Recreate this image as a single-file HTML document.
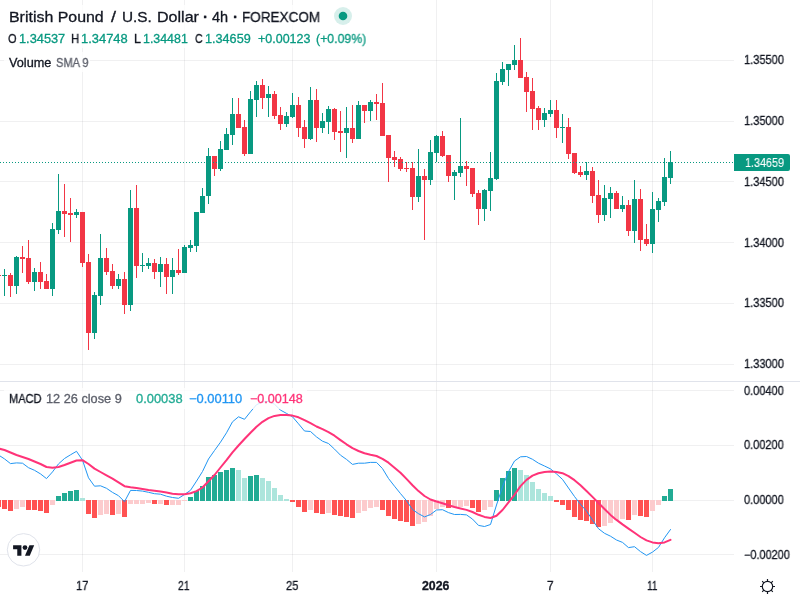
<!DOCTYPE html><html><head><meta charset="utf-8"><title>GBPUSD</title><style>
html,body{margin:0;padding:0;background:#fff}
body{width:800px;height:600px;position:relative;overflow:hidden;font-family:"Liberation Sans",sans-serif;color:#131722}
svg{position:absolute;left:0;top:0}
.t{position:absolute;white-space:nowrap;line-height:1;transform-origin:0 0;display:block;will-change:transform;-webkit-text-stroke:0.3px}
.bg{position:absolute;background:rgba(255,255,255,.8)}
</style></head><body>
<svg width="800" height="600" viewBox="0 0 800 600" shape-rendering="crispEdges">
<rect x="82" y="0" width="1" height="572" fill="#2a2e39" fill-opacity="0.07"/>
<rect x="184" y="0" width="1" height="572" fill="#2a2e39" fill-opacity="0.07"/>
<rect x="292" y="0" width="1" height="572" fill="#2a2e39" fill-opacity="0.07"/>
<rect x="436" y="0" width="1" height="572" fill="#2a2e39" fill-opacity="0.07"/>
<rect x="550" y="0" width="1" height="572" fill="#2a2e39" fill-opacity="0.07"/>
<rect x="652" y="0" width="1" height="572" fill="#2a2e39" fill-opacity="0.07"/>
<rect x="0" y="60" width="734" height="1" fill="#2a2e39" fill-opacity="0.07"/>
<rect x="0" y="121" width="734" height="1" fill="#2a2e39" fill-opacity="0.07"/>
<rect x="0" y="181" width="734" height="1" fill="#2a2e39" fill-opacity="0.07"/>
<rect x="0" y="242" width="734" height="1" fill="#2a2e39" fill-opacity="0.07"/>
<rect x="0" y="303" width="734" height="1" fill="#2a2e39" fill-opacity="0.07"/>
<rect x="0" y="364" width="734" height="1" fill="#2a2e39" fill-opacity="0.07"/>
<rect x="0" y="390" width="734" height="1" fill="#2a2e39" fill-opacity="0.07"/>
<rect x="0" y="445" width="734" height="1" fill="#2a2e39" fill-opacity="0.07"/>
<rect x="0" y="500" width="734" height="1" fill="#2a2e39" fill-opacity="0.07"/>
<rect x="0" y="554" width="734" height="1" fill="#2a2e39" fill-opacity="0.07"/>
<rect x="0" y="381" width="800" height="1" fill="#e0e3eb"/>
<g fill="#089981">
<rect x="4" y="269" width="1" height="27"/>
<rect x="2" y="275" width="5" height="1"/>
<rect x="16" y="256" width="1" height="38"/>
<rect x="14" y="257" width="5" height="29"/>
<rect x="34" y="268" width="1" height="23"/>
<rect x="32" y="272" width="5" height="10"/>
<rect x="52" y="223" width="1" height="73"/>
<rect x="50" y="229" width="5" height="60"/>
<rect x="58" y="174" width="1" height="60"/>
<rect x="56" y="211" width="5" height="19"/>
<rect x="76" y="209" width="1" height="9"/>
<rect x="74" y="212" width="5" height="3"/>
<rect x="94" y="292" width="1" height="47"/>
<rect x="92" y="295" width="5" height="38"/>
<rect x="100" y="234" width="1" height="71"/>
<rect x="98" y="258" width="5" height="38"/>
<rect x="118" y="274" width="1" height="15"/>
<rect x="116" y="279" width="5" height="7"/>
<rect x="130" y="190" width="1" height="121"/>
<rect x="128" y="208" width="5" height="97"/>
<rect x="142" y="253" width="1" height="19"/>
<rect x="140" y="265" width="5" height="1"/>
<rect x="148" y="258" width="1" height="11"/>
<rect x="146" y="263" width="5" height="3"/>
<rect x="160" y="257" width="1" height="30"/>
<rect x="158" y="264" width="5" height="8"/>
<rect x="172" y="258" width="1" height="36"/>
<rect x="170" y="270" width="5" height="7"/>
<rect x="184" y="245" width="1" height="28"/>
<rect x="182" y="247" width="5" height="26"/>
<rect x="190" y="240" width="1" height="12"/>
<rect x="188" y="245" width="5" height="3"/>
<rect x="196" y="212" width="1" height="40"/>
<rect x="194" y="212" width="5" height="34"/>
<rect x="202" y="188" width="1" height="25"/>
<rect x="200" y="196" width="5" height="17"/>
<rect x="208" y="148" width="1" height="56"/>
<rect x="206" y="156" width="5" height="40"/>
<rect x="220" y="141" width="1" height="30"/>
<rect x="218" y="149" width="5" height="20"/>
<rect x="226" y="128" width="1" height="22"/>
<rect x="224" y="134" width="5" height="16"/>
<rect x="232" y="98" width="1" height="47"/>
<rect x="230" y="114" width="5" height="21"/>
<rect x="250" y="91" width="1" height="63"/>
<rect x="248" y="99" width="5" height="55"/>
<rect x="256" y="81" width="1" height="36"/>
<rect x="254" y="85" width="5" height="15"/>
<rect x="268" y="86" width="1" height="31"/>
<rect x="266" y="94" width="5" height="4"/>
<rect x="286" y="112" width="1" height="15"/>
<rect x="284" y="116" width="5" height="8"/>
<rect x="292" y="93" width="1" height="25"/>
<rect x="290" y="105" width="5" height="12"/>
<rect x="310" y="87" width="1" height="53"/>
<rect x="308" y="100" width="5" height="39"/>
<rect x="322" y="113" width="1" height="20"/>
<rect x="320" y="121" width="5" height="7"/>
<rect x="328" y="106" width="1" height="28"/>
<rect x="326" y="109" width="5" height="13"/>
<rect x="346" y="107" width="1" height="51"/>
<rect x="344" y="128" width="5" height="5"/>
<rect x="358" y="101" width="1" height="38"/>
<rect x="356" y="105" width="5" height="34"/>
<rect x="370" y="100" width="1" height="21"/>
<rect x="368" y="102" width="5" height="9"/>
<rect x="418" y="149" width="1" height="53"/>
<rect x="416" y="176" width="5" height="21"/>
<rect x="430" y="140" width="1" height="45"/>
<rect x="428" y="152" width="5" height="28"/>
<rect x="436" y="135" width="1" height="27"/>
<rect x="434" y="136" width="5" height="17"/>
<rect x="454" y="170" width="1" height="30"/>
<rect x="452" y="172" width="5" height="4"/>
<rect x="460" y="118" width="1" height="59"/>
<rect x="458" y="166" width="5" height="7"/>
<rect x="484" y="189" width="1" height="32"/>
<rect x="482" y="190" width="5" height="19"/>
<rect x="490" y="152" width="1" height="59"/>
<rect x="488" y="178" width="5" height="13"/>
<rect x="496" y="73" width="1" height="107"/>
<rect x="494" y="81" width="5" height="98"/>
<rect x="502" y="62" width="1" height="23"/>
<rect x="500" y="69" width="5" height="13"/>
<rect x="508" y="64" width="1" height="22"/>
<rect x="506" y="64" width="5" height="6"/>
<rect x="514" y="45" width="1" height="25"/>
<rect x="512" y="60" width="5" height="5"/>
<rect x="544" y="108" width="1" height="19"/>
<rect x="542" y="113" width="5" height="7"/>
<rect x="550" y="100" width="1" height="17"/>
<rect x="548" y="110" width="5" height="4"/>
<rect x="562" y="114" width="1" height="29"/>
<rect x="560" y="127" width="5" height="1"/>
<rect x="586" y="162" width="1" height="18"/>
<rect x="584" y="171" width="5" height="4"/>
<rect x="604" y="185" width="1" height="36"/>
<rect x="602" y="198" width="5" height="17"/>
<rect x="610" y="187" width="1" height="31"/>
<rect x="608" y="193" width="5" height="6"/>
<rect x="622" y="196" width="1" height="16"/>
<rect x="620" y="205" width="5" height="4"/>
<rect x="634" y="180" width="1" height="63"/>
<rect x="632" y="199" width="5" height="32"/>
<rect x="652" y="192" width="1" height="61"/>
<rect x="650" y="209" width="5" height="35"/>
<rect x="658" y="198" width="1" height="24"/>
<rect x="656" y="201" width="5" height="9"/>
<rect x="664" y="158" width="1" height="48"/>
<rect x="662" y="177" width="5" height="25"/>
<rect x="670" y="151" width="1" height="33"/>
<rect x="668" y="162" width="5" height="16"/>
</g>
<g fill="#F23645">
<rect x="-2" y="275" width="1" height="1"/>
<rect x="-4" y="275" width="5" height="1"/>
<rect x="10" y="273" width="1" height="24"/>
<rect x="8" y="275" width="5" height="11"/>
<rect x="22" y="246" width="1" height="27"/>
<rect x="20" y="257" width="5" height="2"/>
<rect x="28" y="240" width="1" height="44"/>
<rect x="26" y="258" width="5" height="24"/>
<rect x="40" y="262" width="1" height="27"/>
<rect x="38" y="272" width="5" height="10"/>
<rect x="46" y="274" width="1" height="15"/>
<rect x="44" y="281" width="5" height="8"/>
<rect x="64" y="184" width="1" height="53"/>
<rect x="62" y="211" width="5" height="3"/>
<rect x="70" y="198" width="1" height="44"/>
<rect x="68" y="213" width="5" height="2"/>
<rect x="82" y="212" width="1" height="55"/>
<rect x="80" y="212" width="5" height="51"/>
<rect x="88" y="254" width="1" height="96"/>
<rect x="86" y="262" width="5" height="71"/>
<rect x="106" y="248" width="1" height="27"/>
<rect x="104" y="258" width="5" height="14"/>
<rect x="112" y="264" width="1" height="25"/>
<rect x="110" y="271" width="5" height="15"/>
<rect x="124" y="272" width="1" height="42"/>
<rect x="122" y="279" width="5" height="26"/>
<rect x="136" y="185" width="1" height="93"/>
<rect x="134" y="208" width="5" height="58"/>
<rect x="154" y="259" width="1" height="20"/>
<rect x="152" y="263" width="5" height="9"/>
<rect x="166" y="258" width="1" height="36"/>
<rect x="164" y="264" width="5" height="13"/>
<rect x="178" y="249" width="1" height="26"/>
<rect x="176" y="270" width="5" height="3"/>
<rect x="214" y="156" width="1" height="20"/>
<rect x="212" y="156" width="5" height="13"/>
<rect x="238" y="98" width="1" height="30"/>
<rect x="236" y="114" width="5" height="14"/>
<rect x="244" y="120" width="1" height="36"/>
<rect x="242" y="127" width="5" height="27"/>
<rect x="262" y="79" width="1" height="30"/>
<rect x="260" y="85" width="5" height="13"/>
<rect x="274" y="91" width="1" height="28"/>
<rect x="272" y="94" width="5" height="22"/>
<rect x="280" y="107" width="1" height="23"/>
<rect x="278" y="115" width="5" height="9"/>
<rect x="298" y="97" width="1" height="40"/>
<rect x="296" y="105" width="5" height="23"/>
<rect x="304" y="120" width="1" height="28"/>
<rect x="302" y="127" width="5" height="12"/>
<rect x="316" y="89" width="1" height="53"/>
<rect x="314" y="100" width="5" height="28"/>
<rect x="334" y="108" width="1" height="32"/>
<rect x="332" y="109" width="5" height="23"/>
<rect x="340" y="111" width="1" height="41"/>
<rect x="338" y="131" width="5" height="2"/>
<rect x="352" y="105" width="1" height="38"/>
<rect x="350" y="128" width="5" height="11"/>
<rect x="364" y="105" width="1" height="18"/>
<rect x="362" y="105" width="5" height="6"/>
<rect x="376" y="94" width="1" height="26"/>
<rect x="374" y="102" width="5" height="2"/>
<rect x="382" y="83" width="1" height="53"/>
<rect x="380" y="103" width="5" height="33"/>
<rect x="388" y="135" width="1" height="47"/>
<rect x="386" y="135" width="5" height="23"/>
<rect x="394" y="151" width="1" height="16"/>
<rect x="392" y="157" width="5" height="3"/>
<rect x="400" y="157" width="1" height="14"/>
<rect x="398" y="159" width="5" height="10"/>
<rect x="406" y="162" width="1" height="10"/>
<rect x="404" y="168" width="5" height="1"/>
<rect x="412" y="162" width="1" height="48"/>
<rect x="410" y="168" width="5" height="29"/>
<rect x="424" y="169" width="1" height="71"/>
<rect x="422" y="176" width="5" height="4"/>
<rect x="442" y="131" width="1" height="26"/>
<rect x="440" y="136" width="5" height="20"/>
<rect x="448" y="155" width="1" height="27"/>
<rect x="446" y="155" width="5" height="21"/>
<rect x="466" y="161" width="1" height="25"/>
<rect x="464" y="166" width="5" height="3"/>
<rect x="472" y="168" width="1" height="29"/>
<rect x="470" y="168" width="5" height="26"/>
<rect x="478" y="190" width="1" height="35"/>
<rect x="476" y="193" width="5" height="16"/>
<rect x="520" y="38" width="1" height="40"/>
<rect x="518" y="60" width="5" height="18"/>
<rect x="526" y="72" width="1" height="40"/>
<rect x="524" y="77" width="5" height="15"/>
<rect x="532" y="78" width="1" height="52"/>
<rect x="530" y="91" width="5" height="18"/>
<rect x="538" y="106" width="1" height="24"/>
<rect x="536" y="108" width="5" height="12"/>
<rect x="556" y="100" width="1" height="38"/>
<rect x="554" y="110" width="5" height="18"/>
<rect x="568" y="118" width="1" height="41"/>
<rect x="566" y="127" width="5" height="27"/>
<rect x="574" y="153" width="1" height="21"/>
<rect x="572" y="153" width="5" height="20"/>
<rect x="580" y="166" width="1" height="11"/>
<rect x="578" y="172" width="5" height="3"/>
<rect x="592" y="167" width="1" height="36"/>
<rect x="590" y="171" width="5" height="25"/>
<rect x="598" y="180" width="1" height="43"/>
<rect x="596" y="195" width="5" height="20"/>
<rect x="616" y="191" width="1" height="18"/>
<rect x="614" y="193" width="5" height="16"/>
<rect x="628" y="200" width="1" height="36"/>
<rect x="626" y="205" width="5" height="26"/>
<rect x="640" y="189" width="1" height="62"/>
<rect x="638" y="199" width="5" height="41"/>
<rect x="646" y="224" width="1" height="22"/>
<rect x="644" y="239" width="5" height="5"/>
</g>
<g fill="#089981">
<rect x="0" y="162" width="1" height="1"/>
<rect x="3" y="162" width="1" height="1"/>
<rect x="6" y="162" width="1" height="1"/>
<rect x="9" y="162" width="1" height="1"/>
<rect x="12" y="162" width="1" height="1"/>
<rect x="15" y="162" width="1" height="1"/>
<rect x="18" y="162" width="1" height="1"/>
<rect x="21" y="162" width="1" height="1"/>
<rect x="24" y="162" width="1" height="1"/>
<rect x="27" y="162" width="1" height="1"/>
<rect x="30" y="162" width="1" height="1"/>
<rect x="33" y="162" width="1" height="1"/>
<rect x="36" y="162" width="1" height="1"/>
<rect x="39" y="162" width="1" height="1"/>
<rect x="42" y="162" width="1" height="1"/>
<rect x="45" y="162" width="1" height="1"/>
<rect x="48" y="162" width="1" height="1"/>
<rect x="51" y="162" width="1" height="1"/>
<rect x="54" y="162" width="1" height="1"/>
<rect x="57" y="162" width="1" height="1"/>
<rect x="60" y="162" width="1" height="1"/>
<rect x="63" y="162" width="1" height="1"/>
<rect x="66" y="162" width="1" height="1"/>
<rect x="69" y="162" width="1" height="1"/>
<rect x="72" y="162" width="1" height="1"/>
<rect x="75" y="162" width="1" height="1"/>
<rect x="78" y="162" width="1" height="1"/>
<rect x="81" y="162" width="1" height="1"/>
<rect x="84" y="162" width="1" height="1"/>
<rect x="87" y="162" width="1" height="1"/>
<rect x="90" y="162" width="1" height="1"/>
<rect x="93" y="162" width="1" height="1"/>
<rect x="96" y="162" width="1" height="1"/>
<rect x="99" y="162" width="1" height="1"/>
<rect x="102" y="162" width="1" height="1"/>
<rect x="105" y="162" width="1" height="1"/>
<rect x="108" y="162" width="1" height="1"/>
<rect x="111" y="162" width="1" height="1"/>
<rect x="114" y="162" width="1" height="1"/>
<rect x="117" y="162" width="1" height="1"/>
<rect x="120" y="162" width="1" height="1"/>
<rect x="123" y="162" width="1" height="1"/>
<rect x="126" y="162" width="1" height="1"/>
<rect x="129" y="162" width="1" height="1"/>
<rect x="132" y="162" width="1" height="1"/>
<rect x="135" y="162" width="1" height="1"/>
<rect x="138" y="162" width="1" height="1"/>
<rect x="141" y="162" width="1" height="1"/>
<rect x="144" y="162" width="1" height="1"/>
<rect x="147" y="162" width="1" height="1"/>
<rect x="150" y="162" width="1" height="1"/>
<rect x="153" y="162" width="1" height="1"/>
<rect x="156" y="162" width="1" height="1"/>
<rect x="159" y="162" width="1" height="1"/>
<rect x="162" y="162" width="1" height="1"/>
<rect x="165" y="162" width="1" height="1"/>
<rect x="168" y="162" width="1" height="1"/>
<rect x="171" y="162" width="1" height="1"/>
<rect x="174" y="162" width="1" height="1"/>
<rect x="177" y="162" width="1" height="1"/>
<rect x="180" y="162" width="1" height="1"/>
<rect x="183" y="162" width="1" height="1"/>
<rect x="186" y="162" width="1" height="1"/>
<rect x="189" y="162" width="1" height="1"/>
<rect x="192" y="162" width="1" height="1"/>
<rect x="195" y="162" width="1" height="1"/>
<rect x="198" y="162" width="1" height="1"/>
<rect x="201" y="162" width="1" height="1"/>
<rect x="204" y="162" width="1" height="1"/>
<rect x="207" y="162" width="1" height="1"/>
<rect x="210" y="162" width="1" height="1"/>
<rect x="213" y="162" width="1" height="1"/>
<rect x="216" y="162" width="1" height="1"/>
<rect x="219" y="162" width="1" height="1"/>
<rect x="222" y="162" width="1" height="1"/>
<rect x="225" y="162" width="1" height="1"/>
<rect x="228" y="162" width="1" height="1"/>
<rect x="231" y="162" width="1" height="1"/>
<rect x="234" y="162" width="1" height="1"/>
<rect x="237" y="162" width="1" height="1"/>
<rect x="240" y="162" width="1" height="1"/>
<rect x="243" y="162" width="1" height="1"/>
<rect x="246" y="162" width="1" height="1"/>
<rect x="249" y="162" width="1" height="1"/>
<rect x="252" y="162" width="1" height="1"/>
<rect x="255" y="162" width="1" height="1"/>
<rect x="258" y="162" width="1" height="1"/>
<rect x="261" y="162" width="1" height="1"/>
<rect x="264" y="162" width="1" height="1"/>
<rect x="267" y="162" width="1" height="1"/>
<rect x="270" y="162" width="1" height="1"/>
<rect x="273" y="162" width="1" height="1"/>
<rect x="276" y="162" width="1" height="1"/>
<rect x="279" y="162" width="1" height="1"/>
<rect x="282" y="162" width="1" height="1"/>
<rect x="285" y="162" width="1" height="1"/>
<rect x="288" y="162" width="1" height="1"/>
<rect x="291" y="162" width="1" height="1"/>
<rect x="294" y="162" width="1" height="1"/>
<rect x="297" y="162" width="1" height="1"/>
<rect x="300" y="162" width="1" height="1"/>
<rect x="303" y="162" width="1" height="1"/>
<rect x="306" y="162" width="1" height="1"/>
<rect x="309" y="162" width="1" height="1"/>
<rect x="312" y="162" width="1" height="1"/>
<rect x="315" y="162" width="1" height="1"/>
<rect x="318" y="162" width="1" height="1"/>
<rect x="321" y="162" width="1" height="1"/>
<rect x="324" y="162" width="1" height="1"/>
<rect x="327" y="162" width="1" height="1"/>
<rect x="330" y="162" width="1" height="1"/>
<rect x="333" y="162" width="1" height="1"/>
<rect x="336" y="162" width="1" height="1"/>
<rect x="339" y="162" width="1" height="1"/>
<rect x="342" y="162" width="1" height="1"/>
<rect x="345" y="162" width="1" height="1"/>
<rect x="348" y="162" width="1" height="1"/>
<rect x="351" y="162" width="1" height="1"/>
<rect x="354" y="162" width="1" height="1"/>
<rect x="357" y="162" width="1" height="1"/>
<rect x="360" y="162" width="1" height="1"/>
<rect x="363" y="162" width="1" height="1"/>
<rect x="366" y="162" width="1" height="1"/>
<rect x="369" y="162" width="1" height="1"/>
<rect x="372" y="162" width="1" height="1"/>
<rect x="375" y="162" width="1" height="1"/>
<rect x="378" y="162" width="1" height="1"/>
<rect x="381" y="162" width="1" height="1"/>
<rect x="384" y="162" width="1" height="1"/>
<rect x="387" y="162" width="1" height="1"/>
<rect x="390" y="162" width="1" height="1"/>
<rect x="393" y="162" width="1" height="1"/>
<rect x="396" y="162" width="1" height="1"/>
<rect x="399" y="162" width="1" height="1"/>
<rect x="402" y="162" width="1" height="1"/>
<rect x="405" y="162" width="1" height="1"/>
<rect x="408" y="162" width="1" height="1"/>
<rect x="411" y="162" width="1" height="1"/>
<rect x="414" y="162" width="1" height="1"/>
<rect x="417" y="162" width="1" height="1"/>
<rect x="420" y="162" width="1" height="1"/>
<rect x="423" y="162" width="1" height="1"/>
<rect x="426" y="162" width="1" height="1"/>
<rect x="429" y="162" width="1" height="1"/>
<rect x="432" y="162" width="1" height="1"/>
<rect x="435" y="162" width="1" height="1"/>
<rect x="438" y="162" width="1" height="1"/>
<rect x="441" y="162" width="1" height="1"/>
<rect x="444" y="162" width="1" height="1"/>
<rect x="447" y="162" width="1" height="1"/>
<rect x="450" y="162" width="1" height="1"/>
<rect x="453" y="162" width="1" height="1"/>
<rect x="456" y="162" width="1" height="1"/>
<rect x="459" y="162" width="1" height="1"/>
<rect x="462" y="162" width="1" height="1"/>
<rect x="465" y="162" width="1" height="1"/>
<rect x="468" y="162" width="1" height="1"/>
<rect x="471" y="162" width="1" height="1"/>
<rect x="474" y="162" width="1" height="1"/>
<rect x="477" y="162" width="1" height="1"/>
<rect x="480" y="162" width="1" height="1"/>
<rect x="483" y="162" width="1" height="1"/>
<rect x="486" y="162" width="1" height="1"/>
<rect x="489" y="162" width="1" height="1"/>
<rect x="492" y="162" width="1" height="1"/>
<rect x="495" y="162" width="1" height="1"/>
<rect x="498" y="162" width="1" height="1"/>
<rect x="501" y="162" width="1" height="1"/>
<rect x="504" y="162" width="1" height="1"/>
<rect x="507" y="162" width="1" height="1"/>
<rect x="510" y="162" width="1" height="1"/>
<rect x="513" y="162" width="1" height="1"/>
<rect x="516" y="162" width="1" height="1"/>
<rect x="519" y="162" width="1" height="1"/>
<rect x="522" y="162" width="1" height="1"/>
<rect x="525" y="162" width="1" height="1"/>
<rect x="528" y="162" width="1" height="1"/>
<rect x="531" y="162" width="1" height="1"/>
<rect x="534" y="162" width="1" height="1"/>
<rect x="537" y="162" width="1" height="1"/>
<rect x="540" y="162" width="1" height="1"/>
<rect x="543" y="162" width="1" height="1"/>
<rect x="546" y="162" width="1" height="1"/>
<rect x="549" y="162" width="1" height="1"/>
<rect x="552" y="162" width="1" height="1"/>
<rect x="555" y="162" width="1" height="1"/>
<rect x="558" y="162" width="1" height="1"/>
<rect x="561" y="162" width="1" height="1"/>
<rect x="564" y="162" width="1" height="1"/>
<rect x="567" y="162" width="1" height="1"/>
<rect x="570" y="162" width="1" height="1"/>
<rect x="573" y="162" width="1" height="1"/>
<rect x="576" y="162" width="1" height="1"/>
<rect x="579" y="162" width="1" height="1"/>
<rect x="582" y="162" width="1" height="1"/>
<rect x="585" y="162" width="1" height="1"/>
<rect x="588" y="162" width="1" height="1"/>
<rect x="591" y="162" width="1" height="1"/>
<rect x="594" y="162" width="1" height="1"/>
<rect x="597" y="162" width="1" height="1"/>
<rect x="600" y="162" width="1" height="1"/>
<rect x="603" y="162" width="1" height="1"/>
<rect x="606" y="162" width="1" height="1"/>
<rect x="609" y="162" width="1" height="1"/>
<rect x="612" y="162" width="1" height="1"/>
<rect x="615" y="162" width="1" height="1"/>
<rect x="618" y="162" width="1" height="1"/>
<rect x="621" y="162" width="1" height="1"/>
<rect x="624" y="162" width="1" height="1"/>
<rect x="627" y="162" width="1" height="1"/>
<rect x="630" y="162" width="1" height="1"/>
<rect x="633" y="162" width="1" height="1"/>
<rect x="636" y="162" width="1" height="1"/>
<rect x="639" y="162" width="1" height="1"/>
<rect x="642" y="162" width="1" height="1"/>
<rect x="645" y="162" width="1" height="1"/>
<rect x="648" y="162" width="1" height="1"/>
<rect x="651" y="162" width="1" height="1"/>
<rect x="654" y="162" width="1" height="1"/>
<rect x="657" y="162" width="1" height="1"/>
<rect x="660" y="162" width="1" height="1"/>
<rect x="663" y="162" width="1" height="1"/>
<rect x="666" y="162" width="1" height="1"/>
<rect x="669" y="162" width="1" height="1"/>
<rect x="672" y="162" width="1" height="1"/>
<rect x="675" y="162" width="1" height="1"/>
<rect x="678" y="162" width="1" height="1"/>
<rect x="681" y="162" width="1" height="1"/>
<rect x="684" y="162" width="1" height="1"/>
<rect x="687" y="162" width="1" height="1"/>
<rect x="690" y="162" width="1" height="1"/>
<rect x="693" y="162" width="1" height="1"/>
<rect x="696" y="162" width="1" height="1"/>
<rect x="699" y="162" width="1" height="1"/>
<rect x="702" y="162" width="1" height="1"/>
<rect x="705" y="162" width="1" height="1"/>
<rect x="708" y="162" width="1" height="1"/>
<rect x="711" y="162" width="1" height="1"/>
<rect x="714" y="162" width="1" height="1"/>
<rect x="717" y="162" width="1" height="1"/>
<rect x="720" y="162" width="1" height="1"/>
<rect x="723" y="162" width="1" height="1"/>
<rect x="726" y="162" width="1" height="1"/>
<rect x="729" y="162" width="1" height="1"/>
<rect x="732" y="162" width="1" height="1"/>
</g>
<g fill="#22AB94">
<rect x="56" y="496" width="5" height="5"/>
<rect x="62" y="493" width="5" height="8"/>
<rect x="68" y="491" width="5" height="10"/>
<rect x="74" y="490" width="5" height="11"/>
<rect x="188" y="497" width="5" height="4"/>
<rect x="194" y="491" width="5" height="10"/>
<rect x="200" y="486" width="5" height="15"/>
<rect x="206" y="477" width="5" height="24"/>
<rect x="212" y="475" width="5" height="26"/>
<rect x="218" y="472" width="5" height="29"/>
<rect x="224" y="470" width="5" height="31"/>
<rect x="230" y="468" width="5" height="33"/>
<rect x="248" y="476" width="5" height="25"/>
<rect x="254" y="475" width="5" height="26"/>
<rect x="494" y="490" width="5" height="11"/>
<rect x="500" y="478" width="5" height="23"/>
<rect x="506" y="471" width="5" height="30"/>
<rect x="512" y="468" width="5" height="33"/>
<rect x="662" y="496" width="5" height="5"/>
<rect x="668" y="489" width="5" height="12"/>
</g>
<g fill="#ACE5DC">
<rect x="80" y="498" width="5" height="3"/>
<rect x="236" y="470" width="5" height="31"/>
<rect x="242" y="478" width="5" height="23"/>
<rect x="260" y="478" width="5" height="23"/>
<rect x="266" y="481" width="5" height="20"/>
<rect x="272" y="488" width="5" height="13"/>
<rect x="278" y="495" width="5" height="6"/>
<rect x="284" y="499" width="5" height="2"/>
<rect x="518" y="470" width="5" height="31"/>
<rect x="524" y="475" width="5" height="26"/>
<rect x="530" y="482" width="5" height="19"/>
<rect x="536" y="489" width="5" height="12"/>
<rect x="542" y="493" width="5" height="8"/>
<rect x="548" y="496" width="5" height="5"/>
</g>
<g fill="#FCCBCD">
<rect x="14" y="500" width="5" height="9"/>
<rect x="20" y="500" width="5" height="7"/>
<rect x="50" y="500" width="5" height="5"/>
<rect x="98" y="500" width="5" height="15"/>
<rect x="104" y="500" width="5" height="14"/>
<rect x="116" y="500" width="5" height="14"/>
<rect x="128" y="500" width="5" height="4"/>
<rect x="134" y="500" width="5" height="4"/>
<rect x="140" y="500" width="5" height="4"/>
<rect x="146" y="500" width="5" height="3"/>
<rect x="158" y="500" width="5" height="4"/>
<rect x="170" y="500" width="5" height="5"/>
<rect x="176" y="500" width="5" height="5"/>
<rect x="182" y="500" width="5" height="1"/>
<rect x="308" y="500" width="5" height="10"/>
<rect x="326" y="500" width="5" height="13"/>
<rect x="356" y="500" width="5" height="13"/>
<rect x="362" y="500" width="5" height="11"/>
<rect x="368" y="500" width="5" height="8"/>
<rect x="374" y="500" width="5" height="7"/>
<rect x="416" y="500" width="5" height="24"/>
<rect x="422" y="500" width="5" height="22"/>
<rect x="428" y="500" width="5" height="16"/>
<rect x="434" y="500" width="5" height="9"/>
<rect x="440" y="500" width="5" height="7"/>
<rect x="452" y="500" width="5" height="7"/>
<rect x="458" y="500" width="5" height="7"/>
<rect x="464" y="500" width="5" height="6"/>
<rect x="482" y="500" width="5" height="10"/>
<rect x="488" y="500" width="5" height="7"/>
<rect x="602" y="500" width="5" height="26"/>
<rect x="608" y="500" width="5" height="23"/>
<rect x="614" y="500" width="5" height="20"/>
<rect x="620" y="500" width="5" height="19"/>
<rect x="632" y="500" width="5" height="15"/>
<rect x="650" y="500" width="5" height="11"/>
<rect x="656" y="500" width="5" height="5"/>
</g>
<g fill="#FF5252">
<rect x="-4" y="500" width="5" height="7"/>
<rect x="2" y="500" width="5" height="9"/>
<rect x="8" y="500" width="5" height="11"/>
<rect x="26" y="500" width="5" height="10"/>
<rect x="32" y="500" width="5" height="10"/>
<rect x="38" y="500" width="5" height="11"/>
<rect x="44" y="500" width="5" height="13"/>
<rect x="86" y="500" width="5" height="14"/>
<rect x="92" y="500" width="5" height="18"/>
<rect x="110" y="500" width="5" height="15"/>
<rect x="122" y="500" width="5" height="17"/>
<rect x="152" y="500" width="5" height="4"/>
<rect x="164" y="500" width="5" height="5"/>
<rect x="290" y="500" width="5" height="2"/>
<rect x="296" y="500" width="5" height="7"/>
<rect x="302" y="500" width="5" height="12"/>
<rect x="314" y="500" width="5" height="13"/>
<rect x="320" y="500" width="5" height="14"/>
<rect x="332" y="500" width="5" height="15"/>
<rect x="338" y="500" width="5" height="16"/>
<rect x="344" y="500" width="5" height="17"/>
<rect x="350" y="500" width="5" height="18"/>
<rect x="380" y="500" width="5" height="10"/>
<rect x="386" y="500" width="5" height="16"/>
<rect x="392" y="500" width="5" height="19"/>
<rect x="398" y="500" width="5" height="21"/>
<rect x="404" y="500" width="5" height="22"/>
<rect x="410" y="500" width="5" height="26"/>
<rect x="446" y="500" width="5" height="8"/>
<rect x="470" y="500" width="5" height="8"/>
<rect x="476" y="500" width="5" height="12"/>
<rect x="554" y="500" width="5" height="2"/>
<rect x="560" y="500" width="5" height="5"/>
<rect x="566" y="500" width="5" height="10"/>
<rect x="572" y="500" width="5" height="17"/>
<rect x="578" y="500" width="5" height="20"/>
<rect x="584" y="500" width="5" height="21"/>
<rect x="590" y="500" width="5" height="24"/>
<rect x="596" y="500" width="5" height="27"/>
<rect x="626" y="500" width="5" height="20"/>
<rect x="638" y="500" width="5" height="16"/>
<rect x="644" y="500" width="5" height="17"/>
</g>
</svg>
<svg width="800" height="600" viewBox="0 0 800 600" fill="none" stroke-linejoin="round" stroke-linecap="round">
<path d="M-1.5 455.0 L4.5 458.9 L10.5 463.6 L16.5 462.9 L22.5 463.2 L28.5 467.7 L34.5 470.3 L40.5 473.9 L46.5 478.6 L52.5 471.9 L58.5 463.9 L64.5 458.5 L70.5 454.8 L76.5 451.3 L82.5 460.2 L88.5 477.8 L94.5 486.2 L100.5 485.8 L106.5 488.3 L112.5 492.4 L118.5 495.7 L124.5 501.7 L130.5 490.4 L136.5 490.5 L142.5 491.1 L148.5 492.3 L154.5 493.7 L160.5 494.2 L166.5 496.2 L172.5 497.5 L178.5 498.3 L184.5 494.5 L190.5 490.3 L196.5 481.1 L202.5 471.5 L208.5 459.0 L214.5 450.5 L220.5 442.2 L226.5 432.8 L232.5 421.8 L238.5 416.8 L244.5 419.3 L250.5 411.8 L256.5 404.7 L262.5 402.0 L268.5 401.4 L274.5 404.2 L280.5 410.1 L286.5 413.4 L292.5 416.8 L298.5 423.8 L304.5 431.0 L310.5 431.5 L316.5 436.9 L322.5 441.2 L328.5 443.5 L334.5 449.1 L340.5 455.2 L346.5 459.4 L352.5 464.4 L358.5 463.2 L364.5 463.2 L370.5 462.4 L376.5 462.4 L382.5 468.6 L388.5 478.5 L394.5 486.2 L400.5 493.6 L406.5 500.7 L412.5 509.5 L418.5 513.7 L424.5 516.9 L430.5 514.5 L436.5 510.0 L442.5 509.7 L448.5 512.6 L454.5 514.5 L460.5 514.4 L466.5 514.9 L472.5 519.1 L478.5 525.4 L484.5 526.5 L490.5 524.5 L496.5 505.0 L502.5 486.8 L508.5 471.7 L514.5 461.0 L520.5 456.8 L526.5 456.5 L532.5 459.3 L538.5 463.2 L544.5 466.0 L550.5 468.9 L556.5 473.9 L562.5 479.4 L568.5 488.0 L574.5 496.5 L580.5 504.4 L586.5 511.0 L592.5 520.0 L598.5 528.7 L604.5 533.3 L610.5 536.2 L616.5 540.0 L622.5 542.4 L628.5 547.6 L634.5 546.7 L640.5 551.6 L646.5 555.4 L652.5 552.1 L658.5 547.4 L664.5 537.8 L670.5 529.5" stroke="#2196F3" stroke-width="1"/>
<path d="M-1.5 448.5 L4.5 450.0 L10.5 452.5 L16.5 455.0 L22.5 457.0 L28.5 459.0 L34.5 461.5 L40.5 464.0 L46.5 467.0 L52.5 467.7 L58.5 467.0 L64.5 465.0 L70.5 462.7 L76.5 460.5 L82.5 460.2 L88.5 464.0 L94.5 468.6 L100.5 472.0 L106.5 475.3 L112.5 478.6 L118.5 482.3 L124.5 486.2 L130.5 487.3 L136.5 488.1 L142.5 489.0 L148.5 490.0 L154.5 490.7 L160.5 491.6 L166.5 492.6 L172.5 493.7 L178.5 494.3 L184.5 494.3 L190.5 493.3 L196.5 491.1 L202.5 487.5 L208.5 481.2 L214.5 475.0 L220.5 467.5 L226.5 460.1 L232.5 452.3 L238.5 445.5 L244.5 439.0 L250.5 432.7 L256.5 426.8 L262.5 421.8 L268.5 418.1 L274.5 415.9 L280.5 415.1 L286.5 415.1 L292.5 415.6 L298.5 417.3 L304.5 420.1 L310.5 423.1 L316.5 426.5 L322.5 429.2 L328.5 432.2 L334.5 435.7 L340.5 440.1 L346.5 444.3 L352.5 448.1 L358.5 451.0 L364.5 453.2 L370.5 454.7 L376.5 456.0 L382.5 458.9 L388.5 462.7 L394.5 467.7 L400.5 472.7 L406.5 478.9 L412.5 485.2 L418.5 491.1 L424.5 496.0 L430.5 499.5 L436.5 501.5 L442.5 503.2 L448.5 505.2 L454.5 507.0 L460.5 508.5 L466.5 509.9 L472.5 512.0 L478.5 514.8 L484.5 516.9 L490.5 518.0 L496.5 515.8 L502.5 510.0 L508.5 502.4 L514.5 494.8 L520.5 486.1 L526.5 479.9 L532.5 475.6 L538.5 473.2 L544.5 471.9 L550.5 471.4 L556.5 471.9 L562.5 473.2 L568.5 476.1 L574.5 480.2 L580.5 485.2 L586.5 491.0 L592.5 496.9 L598.5 503.0 L604.5 509.0 L610.5 514.9 L616.5 519.9 L622.5 524.4 L628.5 528.6 L634.5 532.8 L640.5 537.0 L646.5 540.4 L652.5 542.4 L658.5 543.2 L664.5 542.4 L670.5 539.8" stroke="#FF3378" stroke-width="2"/>
</svg>
<div class="bg" style="left:4px;top:5px;width:352px;height:23px"></div>
<div class="bg" style="left:4px;top:28px;width:366px;height:20px"></div>
<div class="bg" style="left:4px;top:52px;width:86px;height:20px"></div>
<div class="bg" style="left:4px;top:388px;width:303px;height:21px"></div>
<div style="position:absolute;left:734px;top:154px;width:56px;height:17px;background:#089981;border-radius:0 2px 2px 0"></div>
<svg width="800" height="600" viewBox="0 0 800 600">
<circle cx="343" cy="16" r="9" fill="#089981" fill-opacity="0.16"/>
<circle cx="343" cy="16" r="4.3" fill="#089981"/>
<circle cx="23.5" cy="549.8" r="16.2" fill="#fff" stroke="#e0e3eb" stroke-width="1"/>
<g transform="translate(13.1,542.75) scale(0.594)" fill="#131722">
<path d="M14 22H7V11H0V4h14v18z"/><circle cx="20" cy="8" r="4"/><path d="M28 22h-8l7.5-18h8L28 22z"/>
</g>
<g stroke="#131722" stroke-width="1.2" fill="none" stroke-linecap="butt">
<circle cx="767.5" cy="586.5" r="5.2"/>
<path d="M767.5 579v2.2M767.5 591.8v2.2M760 586.5h2.2M772.8 586.5h2.2M762.2 581.2l1.6 1.6M771.2 590.2l1.6 1.6M762.2 591.8l1.6-1.6M771.2 582.8l1.6-1.6"/>
</g>
</svg>

<span class="t" style="left:8.60px;top:9.53px;font-size:14.5px;color:#131722;font-weight:400;transform:scaleX(1.0982)">British Pound</span>
<span class="t" style="left:111.31px;top:9.53px;font-size:14.5px;color:#131722;font-weight:400;transform:scaleX(1.2444)">/</span>
<span class="t" style="left:121.74px;top:9.53px;font-size:14.5px;color:#131722;font-weight:400;transform:scaleX(1.0577)">U.S.</span>
<span class="t" style="left:156.69px;top:9.53px;font-size:14.5px;color:#131722;font-weight:400;transform:scaleX(1.1075)">Dollar</span>
<span class="t" style="left:202.62px;top:9.53px;font-size:14.5px;color:#131722;font-weight:700;transform:scaleX(1.0400)">·</span>
<span class="t" style="left:212.35px;top:9.53px;font-size:14.5px;color:#131722;font-weight:400;transform:scaleX(1.0000)">4h</span>
<span class="t" style="left:232.92px;top:9.53px;font-size:14.5px;color:#131722;font-weight:700;transform:scaleX(1.0400)">·</span>
<span class="t" style="left:241.67px;top:9.53px;font-size:14.5px;color:#131722;font-weight:400;transform:scaleX(0.9321)">FOREXCOM</span>
<span class="t" style="left:7.95px;top:32.60px;font-size:12.4px;color:#131722;font-weight:400;transform:scaleX(0.8914)">O</span>
<span class="t" style="left:18.53px;top:32.60px;font-size:12.4px;color:#089981;font-weight:400;transform:scaleX(1.0322)">1.34537</span>
<span class="t" style="left:71.31px;top:32.60px;font-size:12.4px;color:#131722;font-weight:400;transform:scaleX(0.9241)">H</span>
<span class="t" style="left:80.92px;top:32.60px;font-size:12.4px;color:#089981;font-weight:400;transform:scaleX(1.0423)">1.34748</span>
<span class="t" style="left:133.99px;top:32.60px;font-size:12.4px;color:#131722;font-weight:400;transform:scaleX(0.9500)">L</span>
<span class="t" style="left:142.75px;top:32.60px;font-size:12.4px;color:#089981;font-weight:400;transform:scaleX(1.0000)">1.34481</span>
<span class="t" style="left:194.98px;top:32.60px;font-size:12.4px;color:#131722;font-weight:400;transform:scaleX(0.8485)">C</span>
<span class="t" style="left:204.63px;top:32.60px;font-size:12.4px;color:#089981;font-weight:400;transform:scaleX(1.0207)">1.34659</span>
<span class="t" style="left:257.60px;top:32.60px;font-size:12.4px;color:#089981;font-weight:400;transform:scaleX(1.0078)">+0.00123</span>
<span class="t" style="left:315.70px;top:32.60px;font-size:12.4px;color:#089981;font-weight:400;transform:scaleX(0.9919)">(+0.09%)</span>
<span class="t" style="left:9.20px;top:56.57px;font-size:12.2px;color:#131722;font-weight:400;transform:scaleX(1.0410)">Volume</span>
<span class="t" style="left:55.65px;top:56.57px;font-size:12.2px;color:#5d606b;font-weight:400;transform:scaleX(0.9086)">SMA 9</span>
<span class="t" style="left:8.62px;top:392.67px;font-size:12.2px;color:#131722;font-weight:400;transform:scaleX(0.9065)">MACD</span>
<span class="t" style="left:45.82px;top:392.67px;font-size:12.2px;color:#5d606b;font-weight:400;transform:scaleX(1.0442)">12 26 close 9</span>
<span class="t" style="left:135.74px;top:392.67px;font-size:12.2px;color:#22AB94;font-weight:400;transform:scaleX(1.0575)">0.00038</span>
<span class="t" style="left:189.47px;top:392.67px;font-size:12.2px;color:#2196F3;font-weight:400;transform:scaleX(1.0586)">−0.00110</span>
<span class="t" style="left:249.78px;top:392.67px;font-size:12.2px;color:#FF3378;font-weight:400;transform:scaleX(1.0328)">−0.00148</span>
<span class="t" style="left:744.11px;top:53.94px;font-size:12px;color:#131722;font-weight:400;transform:scaleX(0.9207)">1.35500</span>
<span class="t" style="left:744.11px;top:114.94px;font-size:12px;color:#131722;font-weight:400;transform:scaleX(0.9207)">1.35000</span>
<span class="t" style="left:744.11px;top:175.84px;font-size:12px;color:#131722;font-weight:400;transform:scaleX(0.9207)">1.34500</span>
<span class="t" style="left:744.11px;top:236.64px;font-size:12px;color:#131722;font-weight:400;transform:scaleX(0.9207)">1.34000</span>
<span class="t" style="left:744.11px;top:297.34px;font-size:12px;color:#131722;font-weight:400;transform:scaleX(0.9207)">1.33500</span>
<span class="t" style="left:744.11px;top:357.64px;font-size:12px;color:#131722;font-weight:400;transform:scaleX(0.9207)">1.33000</span>
<span class="t" style="left:744.27px;top:384.64px;font-size:12px;color:#131722;font-weight:400;transform:scaleX(0.9170)">0.00400</span>
<span class="t" style="left:744.27px;top:438.84px;font-size:12px;color:#131722;font-weight:400;transform:scaleX(0.9170)">0.00200</span>
<span class="t" style="left:744.27px;top:493.64px;font-size:12px;color:#131722;font-weight:400;transform:scaleX(0.9170)">0.00000</span>
<span class="t" style="left:744.05px;top:548.64px;font-size:12px;color:#131722;font-weight:400;transform:scaleX(0.9091)">−0.00200</span>
<span class="t" style="left:744.83px;top:157.14px;font-size:12px;color:#ffffff;font-weight:400;transform:scaleX(0.8994);-webkit-text-stroke:0.1px">1.34659</span>
<span class="t" style="left:76.06px;top:580.04px;font-size:12px;color:#131722;font-weight:400;transform:scaleX(0.9224)">17</span>
<span class="t" style="left:177.67px;top:580.04px;font-size:12px;color:#131722;font-weight:400;transform:scaleX(0.8640)">21</span>
<span class="t" style="left:285.94px;top:580.04px;font-size:12px;color:#131722;font-weight:400;transform:scaleX(0.9280)">25</span>
<span class="t" style="left:422.24px;top:580.04px;font-size:12px;color:#131722;font-weight:700;transform:scaleX(1.0286)">2026</span>
<span class="t" style="left:546.91px;top:580.04px;font-size:12px;color:#131722;font-weight:400;transform:scaleX(0.9739)">7</span>
<span class="t" style="left:646.62px;top:580.04px;font-size:12px;color:#131722;font-weight:400;transform:scaleX(0.8444)">11</span>
</body></html>
